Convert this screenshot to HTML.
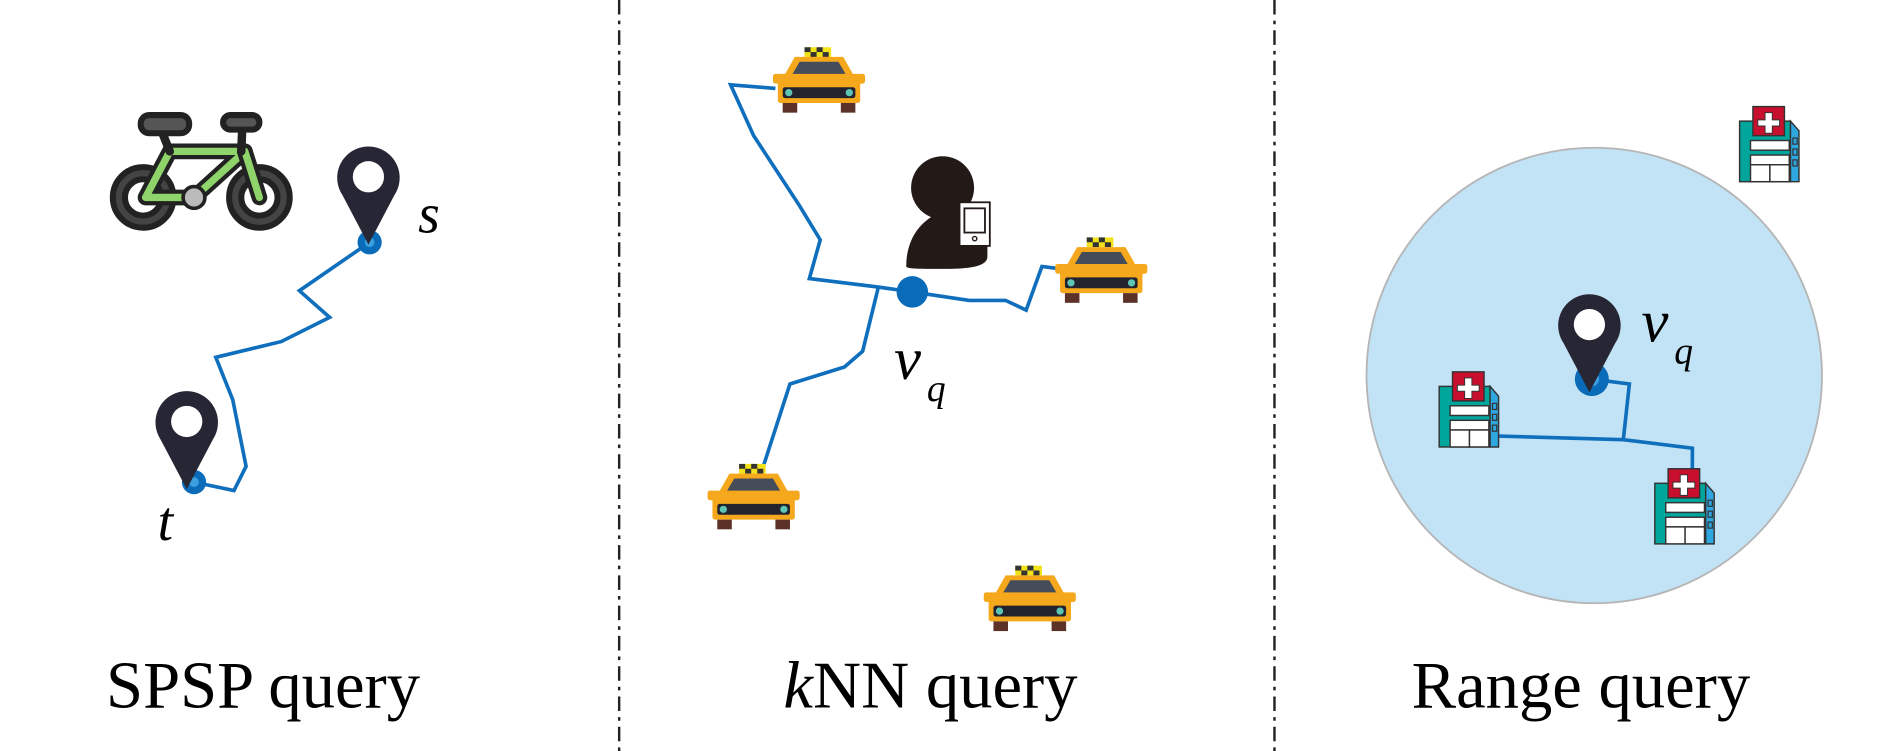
<!DOCTYPE html>
<html><head><meta charset="utf-8"><style>
html,body{margin:0;padding:0;background:#fff;}
svg{display:block;}
</style></head><body>
<svg width="1890" height="751" viewBox="0 0 1560 620" xmlns="http://www.w3.org/2000/svg">
<defs>
<symbol id="taxi" viewBox="0 0 76 56" overflow="visible">
  <rect x="26" y="0" width="22" height="8" fill="#f2e21a"/>
  <rect x="26" y="0" width="5" height="4" fill="#333"/><rect x="36" y="0" width="5" height="4" fill="#333"/>
  <rect x="31" y="4" width="5" height="4" fill="#333"/><rect x="41" y="4" width="5" height="4" fill="#333"/>
  <path d="M18 8 H58 L67 24 H9 Z" fill="#f5a81c"/>
  <path d="M22 12 H54 L61 24 H15 Z" fill="#454c5a"/>
  <rect x="0" y="22" width="76" height="8" rx="2" fill="#f5a81c"/>
  <rect x="4" y="24" width="68" height="22" rx="2" fill="#f5a81c"/>
  <rect x="8" y="33" width="60" height="9" rx="2" fill="#23232e"/>
  <circle cx="13" cy="37.5" r="3" fill="#5ec4b4"/><circle cx="63" cy="37.5" r="3" fill="#5ec4b4"/>
  <rect x="8" y="46" width="12" height="8" fill="#5b3128"/><rect x="56" y="46" width="12" height="8" fill="#5b3128"/>
</symbol>
<symbol id="hosp" viewBox="0 0 52 64" overflow="visible">
  <rect x="1" y="13" width="42" height="50" fill="#00a69c" stroke="#333" stroke-width="1.2"/>
  <path d="M43 13 L50 21 V63 H43 Z" fill="#2ea6e0" stroke="#333" stroke-width="1.2"/>
  <rect x="12" y="1" width="26" height="24" fill="#c8102e" stroke="#333" stroke-width="1.2"/>
  <path d="M22 6 h6 v6 h6 v5 h-6 v6 h-6 v-6 h-6 v-5 h6 z" fill="#fff" stroke="#333" stroke-width="0.8"/>
  <rect x="10" y="29" width="32" height="8" fill="#fff" stroke="#333" stroke-width="1.2"/>
  <rect x="10" y="41" width="32" height="8" fill="#fff" stroke="#333" stroke-width="1.2"/>
  <rect x="10" y="49" width="16" height="14" fill="#fff" stroke="#333" stroke-width="1.2"/>
  <rect x="26" y="49" width="16" height="14" fill="#fff" stroke="#333" stroke-width="1.2"/>
  <rect x="45" y="27" width="3.5" height="5" fill="#2ea6e0" stroke="#333"/>
  <rect x="45" y="36" width="3.5" height="5" fill="#2ea6e0" stroke="#333"/>
  <rect x="45" y="45" width="3.5" height="5" fill="#2ea6e0" stroke="#333"/>
</symbol>
<symbol id="pin" viewBox="-26 -26 52 80" overflow="visible">
  <path d="M0 52 L-20 14 A24 24 0 1 1 20 14 Z" fill="#272634"/>
  <circle cx="0" cy="0" r="12" fill="#fff"/>
</symbol>
</defs>

<g stroke="#222" stroke-width="2" stroke-dasharray="12 5 3 5">
<line x1="511" y1="0" x2="511" y2="620"/>
<line x1="1052" y1="0" x2="1052" y2="620"/>
</g>

<!-- Panel 1: bike -->
<g stroke="#222" stroke-width="5" stroke-linejoin="round" stroke-linecap="round">
  <circle cx="118" cy="163" r="25" fill="#444"/>
  <circle cx="118" cy="163" r="15" fill="#fff" stroke-width="5"/>
  <circle cx="214" cy="163" r="25" fill="#444"/>
  <circle cx="214" cy="163" r="15" fill="#fff" stroke-width="5"/>
  <path d="M120 163 L140 125 H202 L160 163 Z" fill="none" stroke="#222" stroke-width="13"/>
  <path d="M120 163 L140 125 H202 L160 163 Z" fill="none" stroke="#8fd46a" stroke-width="6"/>
  <path d="M202 125 L214 163" stroke="#222" stroke-width="13"/>
  <path d="M202 125 L214 163" stroke="#8fd46a" stroke-width="6"/>
  <path d="M140 125 L132 105" stroke-width="7"/>
  <path d="M199 125 L200 102" stroke-width="7"/>
  <rect x="116" y="95" width="40" height="15" rx="7" fill="#555"/>
  <rect x="184" y="95" width="30" height="12" rx="6" fill="#555"/>
  <circle cx="160" cy="163" r="9" fill="#bbb" stroke-width="3"/>
</g>
<polyline points="305,200 247,240 272,262 232,282 178,295 192,330 203,385 193,405 160,398" fill="none" stroke="#0f6fbd" stroke-width="3"/>
<circle cx="305" cy="200" r="10" fill="#0a6bb8"/><circle cx="305" cy="200" r="4" fill="#3aa0e0"/>
<circle cx="160" cy="398" r="10" fill="#0a6bb8"/><circle cx="160" cy="398" r="4" fill="#3aa0e0"/>
<use href="#pin" x="276" y="118" width="56" height="86"/>
<use href="#pin" x="126" y="320" width="56" height="86"/>
<text x="345" y="192" font-family="Liberation Serif,serif" font-style="italic" font-size="46">s</text>
<text x="130" y="446" font-family="Liberation Serif,serif" font-style="italic" font-size="46">t</text>
<text x="217" y="584" text-anchor="middle" font-family="Liberation Serif,serif" font-size="55">SPSP query</text>

<!-- Panel 2 -->
<g fill="none" stroke="#0f6fbd" stroke-width="3" stroke-linejoin="miter">
<polyline points="753,241 725,237 668,230 677,198 660,170 622,112 603,70 640,73"/>
<polyline points="753,241 800,248 830,248 847,256 860,220 876,222"/>
<polyline points="725,237 712,290 697,303 652,317 630,385"/>
</g>
<circle cx="753" cy="241" r="13" fill="#0a6bb8"/>
<use href="#taxi" x="638" y="39" width="76" height="56"/>
<use href="#taxi" x="871" y="196" width="76" height="56"/>
<use href="#taxi" x="584" y="383" width="76" height="56"/>
<use href="#taxi" x="812" y="467" width="76" height="56"/>
<circle cx="778" cy="155" r="26" fill="#231a18"/>
<path d="M748 220 C748 185 775 172 792 172 C805 172 812 178 815 182 L815 212 C815 220 800 222 780 222 C760 222 748 222 748 220 Z" fill="#231a18"/>
<rect x="792" y="167" width="25" height="36" fill="#fff" stroke="#231a18" stroke-width="1.5"/>
<rect x="796" y="172" width="17" height="20" fill="#fff" stroke="#231a18" stroke-width="1.5"/>
<circle cx="804.5" cy="197" r="1.8" fill="none" stroke="#231a18" stroke-width="1.2"/>
<text x="738" y="313" font-family="Liberation Serif,serif" font-style="italic" font-size="50">v</text>
<text x="765" y="331" font-family="Liberation Serif,serif" font-style="italic" font-size="31">q</text>
<text x="768" y="584" text-anchor="middle" font-family="Liberation Serif,serif" font-size="55"><tspan font-style="italic">k</tspan>NN query</text>

<!-- Panel 3 -->
<circle cx="1316" cy="310" r="188" fill="#c2e3f5" stroke="#b5b5b5" stroke-width="1.5"/>
<use href="#hosp" x="1435" y="87" width="52" height="64"/>
<g fill="none" stroke="#0f6fbd" stroke-width="3">
<polyline points="1314,313 1345,317 1340,363"/>
<polyline points="1237,360 1340,363 1397,370 1397,388"/>
</g>
<use href="#hosp" x="1187" y="306" width="52" height="64"/>
<use href="#hosp" x="1365" y="386" width="52" height="64"/>
<circle cx="1314" cy="313" r="14" fill="#0a6bb8"/><circle cx="1314" cy="313" r="6" fill="#3aa0e0"/>
<use href="#pin" x="1284" y="240" width="56" height="86"/>
<text x="1355" y="282" font-family="Liberation Serif,serif" font-style="italic" font-size="50">v</text>
<text x="1382" y="300" font-family="Liberation Serif,serif" font-style="italic" font-size="31">q</text>
<text x="1305" y="584" text-anchor="middle" font-family="Liberation Serif,serif" font-size="55">Range query</text>
</svg>
</body></html>
